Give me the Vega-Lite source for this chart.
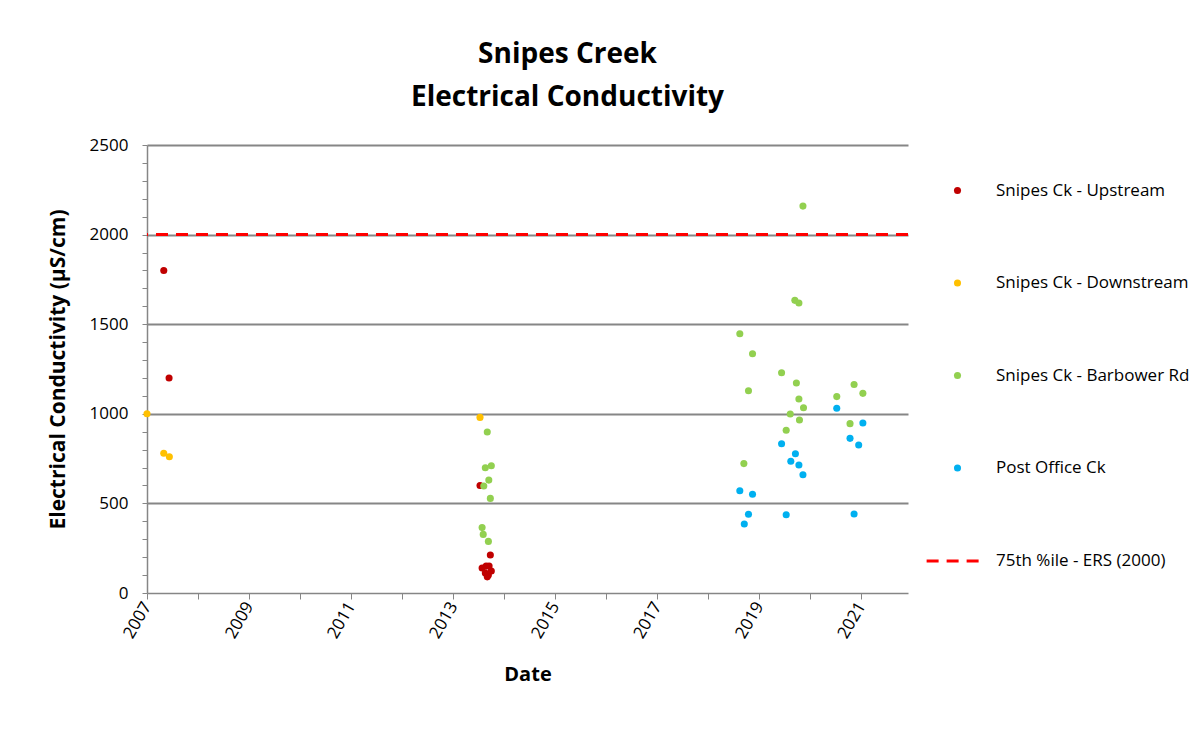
{
  "$schema": "https://vega.github.io/schema/vega-lite/v6.json",
  "autosize": "none",
  "width": 761,
  "height": 448,
  "padding": {"left": 147, "top": 145, "right": 295, "bottom": 138},
  "background": "white",
  "config": {
    "font": "Open Sans",
    "view": {"stroke": null},
    "axis": {"domainColor": "#868686", "tickColor": "#868686", "gridColor": "#868686", "domainWidth": 1.5, "gridWidth": 2, "labelColor": "#000", "titleColor": "#000", "labelFont": "Open Sans", "titleFont": "Open Sans"},
    "legend": {"labelFont": "Open Sans", "labelColor": "#000", "labelFontSize": 17, "labelLimit": 300}
  },
  "title": {
    "text": ["Snipes Creek", "Electrical Conductivity"],
    "fontSize": 28,
    "fontWeight": "bold",
    "font": "Open Sans",
    "lineHeight": 43,
    "anchor": "middle",
    "dx": 40,
    "offset": 24,
    "color": "#000"
  },
  "data": {
    "values": [
      {"date": "2007-05-01", "value": 1800, "series": "Snipes Ck - Upstream"},
      {"date": "2007-06-08", "value": 1200, "series": "Snipes Ck - Upstream"},
      {"date": "2013-07-12", "value": 600, "series": "Snipes Ck - Upstream"},
      {"date": "2013-09-24", "value": 212, "series": "Snipes Ck - Upstream"},
      {"date": "2013-07-27", "value": 140, "series": "Snipes Ck - Upstream"},
      {"date": "2013-08-19", "value": 112, "series": "Snipes Ck - Upstream"},
      {"date": "2013-09-02", "value": 90, "series": "Snipes Ck - Upstream"},
      {"date": "2013-09-15", "value": 150, "series": "Snipes Ck - Upstream"},
      {"date": "2013-10-01", "value": 123, "series": "Snipes Ck - Upstream"},
      {"date": "2013-08-25", "value": 150, "series": "Snipes Ck - Upstream"},
      {"date": "2013-09-10", "value": 100, "series": "Snipes Ck - Upstream"},
      {"date": "2007-01-01", "value": 1000, "series": "Snipes Ck - Downstream"},
      {"date": "2007-05-01", "value": 780, "series": "Snipes Ck - Downstream"},
      {"date": "2007-06-10", "value": 760, "series": "Snipes Ck - Downstream"},
      {"date": "2013-07-12", "value": 980, "series": "Snipes Ck - Downstream"},
      {"date": "2013-09-02", "value": 898, "series": "Snipes Ck - Barbower Rd"},
      {"date": "2013-08-19", "value": 699, "series": "Snipes Ck - Barbower Rd"},
      {"date": "2013-10-01", "value": 710, "series": "Snipes Ck - Barbower Rd"},
      {"date": "2013-09-13", "value": 630, "series": "Snipes Ck - Barbower Rd"},
      {"date": "2013-08-08", "value": 597, "series": "Snipes Ck - Barbower Rd"},
      {"date": "2013-09-24", "value": 528, "series": "Snipes Ck - Barbower Rd"},
      {"date": "2013-07-27", "value": 365, "series": "Snipes Ck - Barbower Rd"},
      {"date": "2013-08-04", "value": 327, "series": "Snipes Ck - Barbower Rd"},
      {"date": "2013-09-10", "value": 288, "series": "Snipes Ck - Barbower Rd"},
      {"date": "2018-08-15", "value": 1447, "series": "Snipes Ck - Barbower Rd"},
      {"date": "2018-09-13", "value": 722, "series": "Snipes Ck - Barbower Rd"},
      {"date": "2018-10-16", "value": 1129, "series": "Snipes Ck - Barbower Rd"},
      {"date": "2018-11-14", "value": 1335, "series": "Snipes Ck - Barbower Rd"},
      {"date": "2019-06-10", "value": 1229, "series": "Snipes Ck - Barbower Rd"},
      {"date": "2019-07-13", "value": 908, "series": "Snipes Ck - Barbower Rd"},
      {"date": "2019-08-11", "value": 999, "series": "Snipes Ck - Barbower Rd"},
      {"date": "2019-09-13", "value": 1633, "series": "Snipes Ck - Barbower Rd"},
      {"date": "2019-09-24", "value": 1172, "series": "Snipes Ck - Barbower Rd"},
      {"date": "2019-10-12", "value": 1618, "series": "Snipes Ck - Barbower Rd"},
      {"date": "2019-10-12", "value": 1083, "series": "Snipes Ck - Barbower Rd"},
      {"date": "2019-10-16", "value": 965, "series": "Snipes Ck - Barbower Rd"},
      {"date": "2019-11-10", "value": 2159, "series": "Snipes Ck - Barbower Rd"},
      {"date": "2019-11-14", "value": 1034, "series": "Snipes Ck - Barbower Rd"},
      {"date": "2020-07-09", "value": 1096, "series": "Snipes Ck - Barbower Rd"},
      {"date": "2020-10-12", "value": 945, "series": "Snipes Ck - Barbower Rd"},
      {"date": "2020-11-10", "value": 1164, "series": "Snipes Ck - Barbower Rd"},
      {"date": "2021-01-12", "value": 1114, "series": "Snipes Ck - Barbower Rd"},
      {"date": "2018-08-15", "value": 571, "series": "Post Office Ck"},
      {"date": "2018-09-16", "value": 385, "series": "Post Office Ck"},
      {"date": "2018-10-16", "value": 439, "series": "Post Office Ck"},
      {"date": "2018-11-14", "value": 551, "series": "Post Office Ck"},
      {"date": "2019-06-10", "value": 833, "series": "Post Office Ck"},
      {"date": "2019-07-13", "value": 437, "series": "Post Office Ck"},
      {"date": "2019-08-15", "value": 735, "series": "Post Office Ck"},
      {"date": "2019-09-17", "value": 777, "series": "Post Office Ck"},
      {"date": "2019-10-12", "value": 714, "series": "Post Office Ck"},
      {"date": "2019-11-10", "value": 660, "series": "Post Office Ck"},
      {"date": "2020-07-09", "value": 1031, "series": "Post Office Ck"},
      {"date": "2020-10-12", "value": 863, "series": "Post Office Ck"},
      {"date": "2020-11-10", "value": 441, "series": "Post Office Ck"},
      {"date": "2020-12-13", "value": 826, "series": "Post Office Ck"},
      {"date": "2021-01-12", "value": 949, "series": "Post Office Ck"}
    ]
  },
  "layer": [
    {
      "mark": {"type": "point", "filled": true, "size": 50, "opacity": 1, "shape": "circle"},
      "encoding": {
        "x": {
          "field": "date", "type": "temporal",
          "scale": {"domain": [{"year": 2007, "month": 1, "date": 1}, {"year": 2021, "month": 12, "date": 1}], "nice": false},
          "axis": {
            "title": "Date", "titleFontSize": 20, "titleFontWeight": "bold", "titlePadding": 24,
            "values": [{"year": 2007}, {"year": 2008}, {"year": 2009}, {"year": 2010}, {"year": 2011}, {"year": 2012}, {"year": 2013}, {"year": 2014}, {"year": 2015}, {"year": 2016}, {"year": 2017}, {"year": 2018}, {"year": 2019}, {"year": 2020}, {"year": 2021}],
            "labelExpr": "year(datum.value) % 2 == 1 ? timeFormat(datum.value, '%Y') : ''",
            "labelAngle": -60, "labelAlign": "right", "labelBaseline": "middle", "labelFontSize": 17, "labelPadding": 4,
            "tickSize": 6, "grid": false, "labelOverlap": false, "labelFlush": false
          }
        },
        "y": {
          "field": "value", "type": "quantitative",
          "scale": {"domain": [0, 2500], "nice": false},
          "axis": {
            "title": "Electrical Conductivity (µS/cm)", "titleFontSize": 21, "titleFontWeight": "bold", "titlePadding": 21,
            "values": [0, 100, 200, 300, 400, 500, 600, 700, 800, 900, 1000, 1100, 1200, 1300, 1400, 1500, 1600, 1700, 1800, 1900, 2000, 2100, 2200, 2300, 2400, 2500],
            "labelExpr": "datum.value % 500 == 0 ? datum.value : ''",
            "labelFontSize": 17, "labelPadding": 14, "tickSize": 5,
            "grid": true,
            "gridOpacity": {"condition": {"test": "datum.value % 500 == 0 && datum.value > 0", "value": 1}, "value": 0},
            "labelOverlap": false
          }
        },
        "color": {
          "field": "series", "type": "nominal",
          "scale": {
            "domain": ["Snipes Ck - Upstream", "Snipes Ck - Downstream", "Snipes Ck - Barbower Rd", "Post Office Ck"],
            "range": ["#C00000", "#FFC000", "#92D050", "#00B0F0"]
          },
          "legend": {
            "title": null,
            "orient": "none",
            "legendX": 802,
            "legendY": 37,
            "symbolSize": 50,
            "symbolType": "circle",
            "labelOffset": 30,
            "rowPadding": 74.5
          }
        }
      }
    },
    {
      "mark": {"type": "rule", "color": "#FF0000", "strokeWidth": 3},
      "encoding": {
        "y": {
          "datum": 2000, "type": "quantitative",
          "axis": {
            "title": "Electrical Conductivity (µS/cm)", "titleFontSize": 21, "titleFontWeight": "bold", "titlePadding": 21,
            "values": [0, 100, 200, 300, 400, 500, 600, 700, 800, 900, 1000, 1100, 1200, 1300, 1400, 1500, 1600, 1700, 1800, 1900, 2000, 2100, 2200, 2300, 2400, 2500],
            "labelExpr": "datum.value % 500 == 0 ? datum.value : ''",
            "labelFontSize": 17, "labelPadding": 14, "tickSize": 5,
            "grid": true,
            "gridOpacity": {"condition": {"test": "datum.value % 500 == 0 && datum.value > 0", "value": 1}, "value": 0},
            "labelOverlap": false
          }
        },
        "strokeDash": {
          "datum": "75th %ile - ERS (2000)",
          "scale": {"domain": ["75th %ile - ERS (2000)"], "range": [[12, 8]]},
          "legend": {
            "title": null,
            "orient": "none",
            "legendX": 778,
            "legendY": 387,
            "symbolType": "stroke",
            "symbolSize": 3000,
            "symbolStrokeWidth": 3,
            "symbolStrokeColor": "#FF0000",
            "labelOffset": 13
          }
        }
      }
    }
  ]
}
